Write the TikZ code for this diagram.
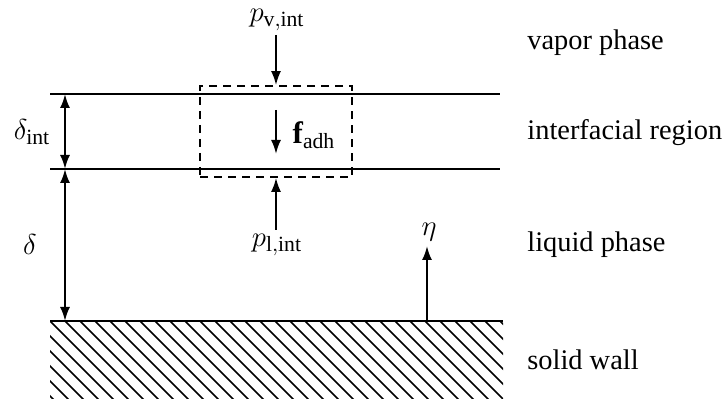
\documentclass[tikz,border=0pt]{standalone}
\usepackage{fontspec}
\setmainfont{Liberation Serif}
\usetikzlibrary{arrows.meta}
\begin{document}
\begin{tikzpicture}[x=0.5pt,y=-0.5pt,
  lbl/.style={font=\fontsize{14.2}{16}\selectfont, anchor=west, inner sep=0pt},
  mlbl/.style={font=\fontsize{15.5}{17}\selectfont, inner sep=0pt},
  wall/.style={line width=1pt},
  arr/.style={line width=1pt, -{Latex[length=7pt,width=5pt]}},
  darr/.style={line width=1pt, {Latex[length=7pt,width=5pt]}-{Latex[length=7pt,width=5pt]}},
  dbox/.style={line width=0.9pt, dash pattern=on 4pt off 3pt},
  hatch/.style={line width=0.75pt}]
\useasboundingbox (0,0) rectangle (727,399);
% interface lines
\coordinate (t1) at (50,94);  \coordinate (t2) at (500,94);
\coordinate (b1) at (50,169); \coordinate (b2) at (500,169);
\coordinate (w1) at (50,321); \coordinate (w2) at (503,321);
\draw[wall] (t1) -- (t2);
\draw[wall] (b1) -- (b2);
% hatching
\begin{scope}
\clip (50,321) rectangle (503,399);
\foreach \i in {-6,...,31} {
  \draw[hatch] ({50+15*\i},321) -- ({50+15*\i+80},401);
}
\end{scope}
\draw[wall] (w1) -- (w2);
% thickness arrows
\coordinate (a1) at (65,94); \coordinate (a2) at (65,169); \coordinate (a3) at (65,321);
\draw[darr] (a1) -- (a2);
\draw[darr] (a2) -- (a3);
\node[mlbl] (dint) at (32,132) {$\delta_{\mathrm{int}}$};
\node[mlbl] (dl) at (30,245) {$\delta$};
% dashed control volume
\node[dbox, draw, minimum width=76pt, minimum height=45.5pt, inner sep=0pt] (cv) at (276,131.5) {};
% pressures and force
\node[mlbl] (pv) at (277,20) {$p_{\mathrm{v,int}}$};
\coordinate (pvs) at (276,35);
\draw[arr] (pvs) -- (cv.north);
\node[mlbl] (pl) at (277,245) {$p_{\mathrm{l,int}}$};
\coordinate (pls) at (276,230);
\draw[arr] (pls) -- (cv.south);
\coordinate (fs) at (276,110); \coordinate (fe) at (276,154);
\draw[arr] (fs) -- (fe);
\node[mlbl] (fadh) at (314,135) {$\mathbf{f}_{\mathrm{adh}}$};
% eta
\coordinate (es) at (427,321); \coordinate (ee) at (427,246);
\draw[arr] (es) -- (ee);
\node[mlbl] (eta) at (429,232) {$\eta$};
% region labels
\node[lbl] (vap) at (527,43) {vapor phase};
\node[lbl] (int) at (527,133) {interfacial region};
\node[lbl] (liq) at (527,245) {liquid phase};
\node[lbl] (sol) at (527,360) {solid wall};
\end{tikzpicture}
\end{document}
